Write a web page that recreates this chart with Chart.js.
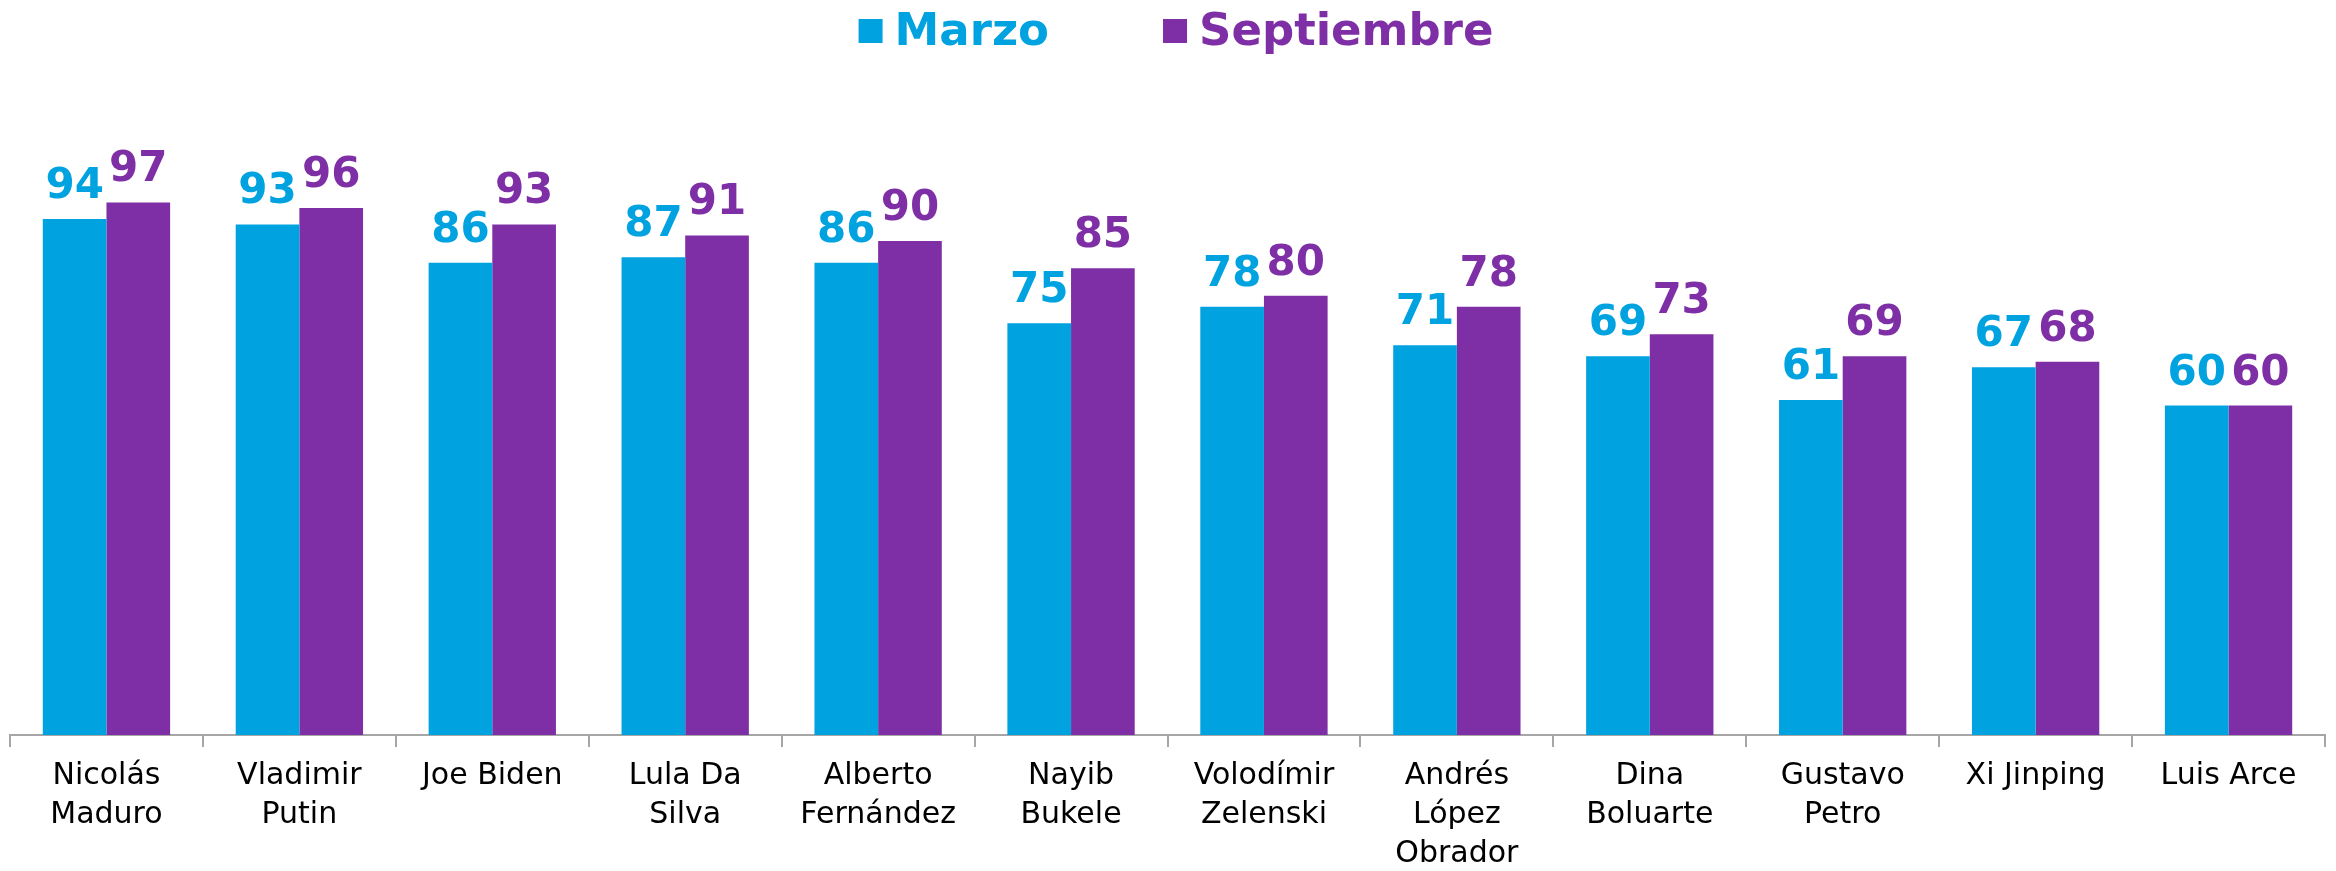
<!DOCTYPE html>
<html lang="es">
<head>
  <meta charset="UTF-8">
  <title>Marzo vs Septiembre</title>
  <script src="https://cdn.jsdelivr.net/npm/chart.js"></script>
  <style>
    html, body { margin: 0; padding: 0; background: #ffffff; }
    #wrap { width: 2336px; height: 871px; }
  </style>
</head>
<body>
  <div id="wrap"><canvas id="chart"></canvas></div>

  <script>
    // Data
    const categories = [
      ['Nicolás', 'Maduro'],
      ['Vladimir', 'Putin'],
      ['Joe Biden'],
      ['Lula Da', 'Silva'],
      ['Alberto', 'Fernández'],
      ['Nayib', 'Bukele'],
      ['Volodímir', 'Zelenski'],
      ['Andrés', 'López', 'Obrador'],
      ['Dina', 'Boluarte'],
      ['Gustavo', 'Petro'],
      ['Xi Jinping'],
      ['Luis Arce']
    ];
    const marzo = [94, 93, 86, 87, 86, 75, 78, 71, 69, 61, 67, 60];
    const septiembre = [97, 96, 93, 91, 90, 85, 80, 78, 73, 69, 68, 60];

    const BLUE = '#00A3E0';
    const PURPLE = '#7F2FA5';
    const FONT = "'DejaVu Sans', sans-serif";

    // Value labels above each bar
    const valueLabels = {
      id: 'valueLabels',
      afterDatasetsDraw(chart) {
        const ctx = chart.ctx;
        ctx.save();
        ctx.font = 'bold 42px ' + FONT;
        ctx.textAlign = 'center';
        ctx.textBaseline = 'alphabetic';
        chart.data.datasets.forEach((ds, i) => {
          ctx.fillStyle = ds.backgroundColor;
          chart.getDatasetMeta(i).data.forEach((bar, j) => {
            ctx.fillText(ds.data[j], bar.x, bar.y - 21);
          });
        });
        ctx.restore();
      }
    };

    // Legend centred at the top
    const topLegend = {
      id: 'topLegend',
      afterDraw(chart) {
        const ctx = chart.ctx;
        ctx.save();
        ctx.font = 'bold 45px ' + FONT;
        ctx.textBaseline = 'middle';
        const box = 24, gapText = 12, gapItem = 114, cy = 31;
        const items = chart.data.datasets.map(ds => ({
          text: ds.label, color: ds.backgroundColor,
          w: box + gapText + ctx.measureText(ds.label).width
        }));
        const total = items.reduce((s, it) => s + it.w, 0) + gapItem * (items.length - 1);
        let x = (chart.width - total) / 2 + 8;
        items.forEach(it => {
          ctx.fillStyle = it.color;
          ctx.fillRect(x, cy - box / 2, box, box);
          ctx.fillText(it.text, x + box + gapText, cy + 2);
          x += it.w + gapItem;
        });
        ctx.restore();
      }
    };

    new Chart(document.getElementById('chart'), {
      type: 'bar',
      data: {
        labels: categories,
        datasets: [
          { label: 'Marzo', data: marzo, backgroundColor: BLUE },
          { label: 'Septiembre', data: septiembre, backgroundColor: PURPLE }
        ]
      },
      options: {
        responsive: true,
        maintainAspectRatio: false,
        animation: false,
        layout: { padding: { top: 186, left: 10, right: 11, bottom: 0 } },
        datasets: { bar: { categoryPercentage: 0.66, barPercentage: 1.0 } },
        plugins: { legend: { display: false }, tooltip: { enabled: false } },
        scales: {
          x: {
            grid: { display: true, drawOnChartArea: false, drawTicks: true, tickLength: 12, color: '#A6A6A6', lineWidth: 2 },
            border: { display: true, color: '#A6A6A6', width: 2 },
            ticks: {
              color: '#000000',
              font: { family: FONT, size: 30, lineHeight: 1.3 },
              padding: 10,
              maxRotation: 0,
              autoSkip: false
            },
            afterFit(scale) { scale.height = 136; }
          },
          y: { display: false, min: 0, max: 100 }
        }
      },
      plugins: [valueLabels, topLegend]
    });
  </script>
</body>
</html>
